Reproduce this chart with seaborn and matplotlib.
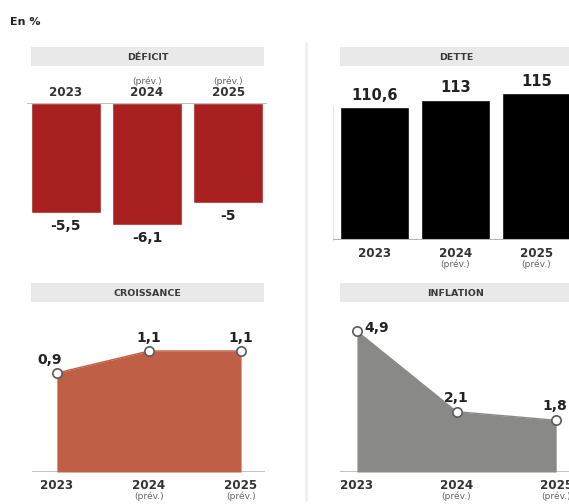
import matplotlib
matplotlib.use("Agg")
import matplotlib.pyplot as plt
import seaborn as sns
import numpy as np
from matplotlib.patches import Rectangle
from matplotlib.lines import Line2D

# Data (en %)
years = ["2023", "2024", "2025"]
forecast = [False, True, True]
deficit = [-5.5, -6.1, -5.0]
dette = [110.6, 113.0, 115.0]
croissance = [0.9, 1.1, 1.1]
inflation = [4.9, 2.1, 1.8]

deficit_labels = ["-5,5", "-6,1", "-5"]
dette_labels = ["110,6", "113", "115"]
croissance_labels = ["0,9", "1,1", "1,1"]
inflation_labels = ["4,9", "2,1", "1,8"]

sns.set_theme(style="white")
plt.rcParams["font.family"] = ["DejaVu Sans"]

W, H = 569, 504
fig = plt.figure(figsize=(W / 100, H / 100), dpi=100)
fig.patch.set_facecolor("white")


def box(x0, y0, x1, y1):
    return [x0 / W, 1 - y1 / H, (x1 - x0) / W, (y1 - y0) / H]


def ftext(x, y, s, **kw):
    fig.text(x / W, 1 - y / H, s, **kw)


def header(x0, y0, x1, y1, label):
    fig.patches.append(Rectangle((x0 / W, 1 - y1 / H), (x1 - x0) / W, (y1 - y0) / H,
                                 transform=fig.transFigure, facecolor="#e9e9e9",
                                 edgecolor="none", zorder=0))
    ftext((x0 + x1) / 2, (y0 + y1) / 2 + 0.5, label,
          ha="center", va="center", fontsize=6.8, fontweight="bold", color="#3a3a3a")


def clean(ax):
    ax.set_facecolor("none")
    for s in ax.spines.values():
        s.set_visible(False)
    ax.set_xticks([])
    ax.set_yticks([])
    ax.set_xlabel("")
    ax.set_ylabel("")


VAL = dict(fontsize=10, fontweight="bold", color="#222222")
YEAR = dict(fontsize=8.6, fontweight="bold", color="#333333")
PREV = dict(fontsize=6.6, color="#666666")

# Unit line and panel separator
ftext(10, 22, "En %", ha="left", va="center", fontsize=8, fontweight="bold", color="#222222")
fig.lines.append(Line2D([306 / W, 306 / W], [1 - 43 / H, 1 - 500 / H],
                        transform=fig.transFigure, color="#efefef", lw=2))

# ---- DÉFICIT ----
header(31, 47, 264, 66, "DÉFICIT")
ax = fig.add_axes(box(27, 103, 267, 235))
sns.barplot(x=years, y=deficit, color="#a8201f", width=0.864, saturation=1, ax=ax)
ax.set_xlim(-0.48, 2.48)
ax.set_ylim(-6.6, 0)
clean(ax)
ax.axhline(0, color="#b5b5b5", lw=1.2, zorder=5)
for i, (v, lab) in enumerate(zip(deficit, deficit_labels)):
    ax.annotate(lab, (i, v), xytext=(0, -4), textcoords="offset points",
                ha="center", va="top", annotation_clip=False, **VAL)
    ax.annotate(years[i], (i, 0), xytext=(0, 3), textcoords="offset points",
                ha="center", va="bottom", annotation_clip=False, **YEAR)
    if forecast[i]:
        ax.annotate("(prév.)", (i, 0), xytext=(0, 12), textcoords="offset points",
                    ha="center", va="bottom", annotation_clip=False, **PREV)

# ---- DETTE ----
header(340, 47, 572, 66, "DETTE")
ax = fig.add_axes(box(333, 77.5, 585, 240))
sns.barplot(x=years, y=dette, color="#000000", width=0.85, saturation=1, ax=ax)
ax.set_xlim(-0.51, 2.6)
ax.set_ylim(68.4, 120)
clean(ax)
ax.spines["left"].set_visible(True)
ax.spines["left"].set_color("#e4e4e4")
ax.spines["left"].set_linewidth(0.8)
ax.spines["left"].set_bounds(68.4, 110.6)
ax.axhline(68.4, color="#b5b5b5", lw=1.5, zorder=5)
for i, (v, lab) in enumerate(zip(dette, dette_labels)):
    ax.annotate(lab, (i, v), xytext=(0, 3), textcoords="offset points",
                ha="center", va="bottom", annotation_clip=False, fontsize=10.5,
                fontweight="bold", color="#222222")
    ax.annotate(years[i], (i, 68.4), xytext=(0, -5), textcoords="offset points",
                ha="center", va="top", annotation_clip=False, **YEAR)
    if forecast[i]:
        ax.annotate("(prév.)", (i, 68.4), xytext=(0, -14), textcoords="offset points",
                    ha="center", va="top", annotation_clip=False, **PREV)


def area_panel(box_px, xlim, ylim, values, labels, color, offsets, title, hbox):
    header(*hbox, title)
    ax = fig.add_axes(box(*box_px))
    pos = np.arange(len(values))
    ax.fill_between(pos, 0, values, color=color, lw=0, zorder=1)
    sns.lineplot(x=pos, y=values, color=color, lw=1, ax=ax, zorder=2)
    sns.scatterplot(x=pos, y=values, s=45, color="white", edgecolor="#5a5a5a",
                    linewidth=1.2, ax=ax, zorder=3, clip_on=False)
    ax.set_xlim(*xlim)
    ax.set_ylim(*ylim)
    clean(ax)
    ax.axhline(0, color="#c4c4c4", lw=1.5, zorder=0)
    for i, (v, lab) in enumerate(zip(values, labels)):
        dx, dy, ha = offsets[i]
        ax.annotate(lab, (i, v), xytext=(dx, dy), textcoords="offset points",
                    ha=ha, va="bottom", annotation_clip=False, **VAL)
        ax.annotate(years[i], (i, 0), xytext=(0, -5), textcoords="offset points",
                    ha="center", va="top", annotation_clip=False, **YEAR)
        if forecast[i]:
            ax.annotate("(prév.)", (i, 0), xytext=(0, -14), textcoords="offset points",
                        ha="center", va="top", annotation_clip=False, **PREV)
    return ax


# ---- CROISSANCE ----
area_panel((32, 318, 265, 472), (-0.27, 2.26), (0, 1.4), croissance, croissance_labels,
           "#bf5f46", [(-5, 4, "center"), (0, 4, "center"), (0, 4, "center")],
           "CROISSANCE", (31, 283, 264, 302))

# ---- INFLATION ----
area_panel((340, 314, 600, 472), (-0.17, 2.44), (0, 5.5), inflation, inflation_labels,
           "#898987", [(5, -3, "left"), (0, 5, "center"), (-1, 5, "center")],
           "INFLATION", (340, 283, 572, 302))

fig.savefig("out.png", dpi=100)
